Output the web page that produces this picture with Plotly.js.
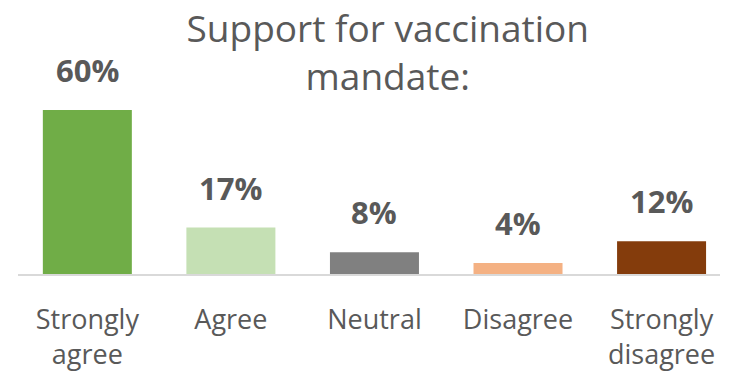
<!DOCTYPE html>
<html>
<head>
<meta charset="utf-8">
<script src="https://cdn.plot.ly/plotly-3.0.1.min.js"></script>
<style>html,body{margin:0;padding:0;background:#fff;}#chart{width:740px;height:378px;}</style>
</head>
<body>
<div id="chart"></div>
<script>
const categories = ["Strongly<br>agree", "Agree", "Neutral", "Disagree", "Strongly<br>disagree"];
const values = [60, 17, 8, 4, 12];
const labels = ["60%", "17%", "8%", "4%", "12%"];
const colors = ["#70AD47", "#C5E0B4", "#808080", "#F4B183", "#843C0C"];
const titleText = "Support for vaccination<br>mandate:";

const textColor = "#595959";

const trace = {
  type: "bar",
  x: categories,
  y: values,
  marker: {color: colors, line: {width: 0}},
  hoverinfo: "none"
};

const annotations = categories.map((c, i) => ({
  x: c, y: values[i], xref: "x", yref: "y",
  text: "<b>" + labels[i] + "</b>",
  showarrow: false, yanchor: "bottom", yshift: 17,
  font: {family: "Open Sans, sans-serif", size: 31, color: textColor}
}));

const layout = {
  width: 740, height: 378,
  margin: {l: 18, r: 20, t: 92, b: 104, pad: 0},
  paper_bgcolor: "#fff", plot_bgcolor: "#fff",
  showlegend: false,
  bargap: 0.38,
  title: {
    text: titleText,
    x: 0.524, xanchor: "center", xref: "container",
    y: 0.89, yanchor: "top", yref: "container",
    font: {family: "Open Sans, sans-serif", size: 37, color: textColor}
  },
  xaxis: {
    type: "category",
    range: [-0.483, 4.407],
    showline: true, linecolor: "#D9D9D9", linewidth: 1.5,
    ticks: "", showgrid: false, zeroline: false,
    ticklabelstandoff: 21,
    tickfont: {family: "Open Sans, sans-serif", size: 27, color: textColor},
    fixedrange: true
  },
  yaxis: {
    range: [0, 66.6],
    visible: false, showgrid: false, zeroline: false, fixedrange: true
  },
  annotations: annotations
};

Plotly.newPlot("chart", [trace], layout, {displayModeBar: false, staticPlot: true});
</script>
</body>
</html>
